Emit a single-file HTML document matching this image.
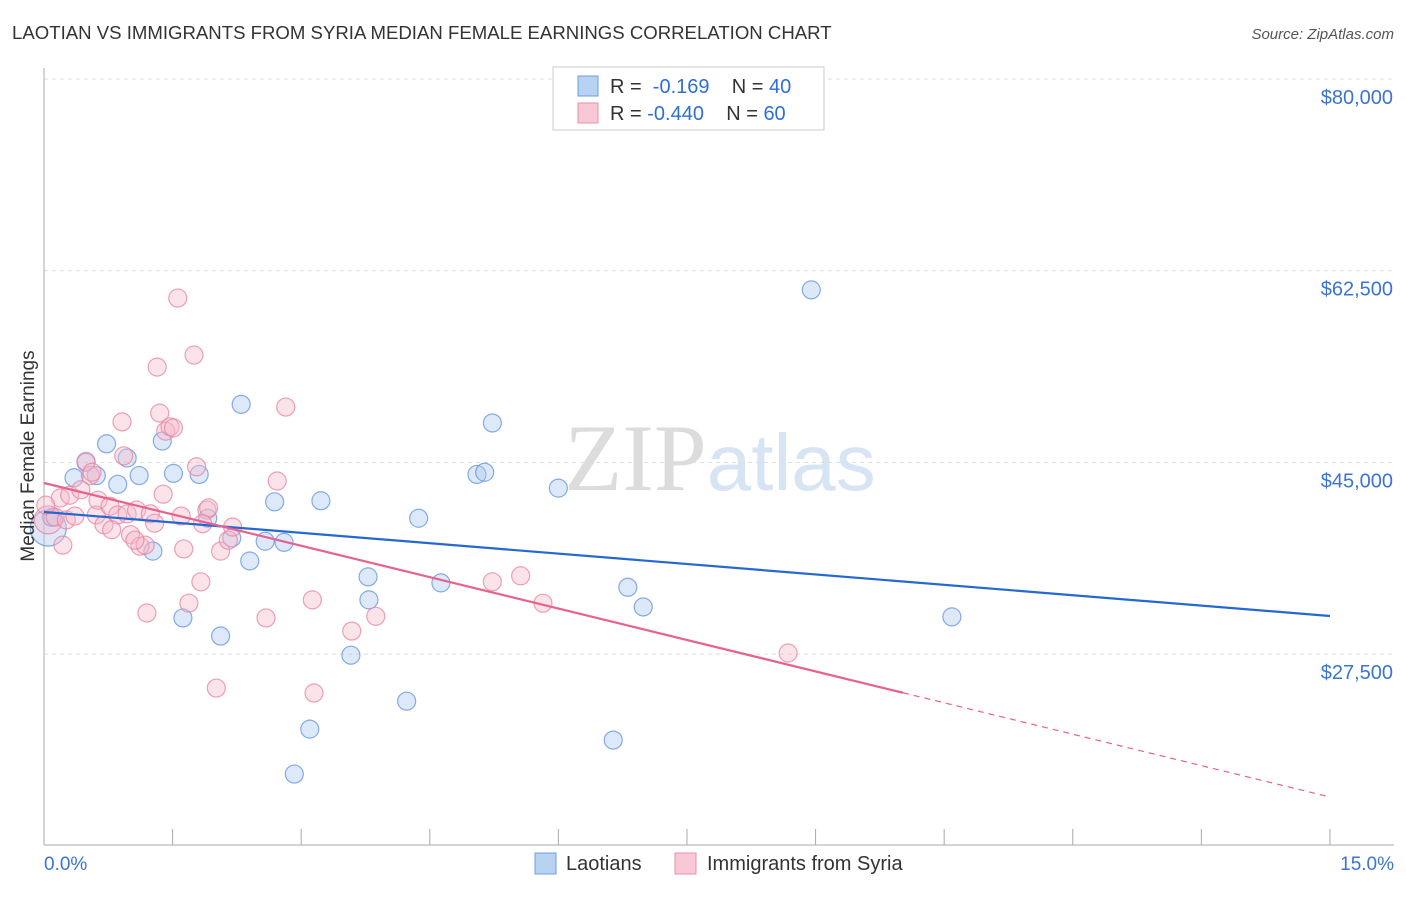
<!DOCTYPE html>
<html><head><meta charset="utf-8"><style>
body{margin:0;background:#fff;font-family:"Liberation Sans",sans-serif;}
svg text{font-family:"Liberation Sans",sans-serif;}
</style></head><body>
<svg id="c" width="1406" height="892">
<text x="12" y="39" font-size="18.6" fill="#333">LAOTIAN VS IMMIGRANTS FROM SYRIA MEDIAN FEMALE EARNINGS CORRELATION CHART</text>
<text x="1394" y="39" font-size="15" fill="#555" font-style="italic" text-anchor="end">Source: ZipAtlas.com</text>
<text x="720" y="490" font-size="95" fill="#e4e4e4" text-anchor="middle" font-family="Liberation Serif"><tspan fill="#dcdcdc" font-family="Liberation Serif">ZIP</tspan><tspan fill="#d6e4f4" font-family="Liberation Sans" font-size="80">atlas</tspan></text>
<g id="grid"></g><g id="axes"></g><g id="pts"></g><g id="lines"></g>
<text x="34" y="456" font-size="19" fill="#333" text-anchor="middle" transform="rotate(-90 34 456)">Median Female Earnings</text>
<g>
<rect x="553" y="67" width="271" height="63" fill="#fff" stroke="#ccc"/>
<rect x="578" y="76" width="20" height="20" fill="#b8d2f2" stroke="#6d9de0"/>
<rect x="578" y="103" width="20" height="20" fill="#f8c8d6" stroke="#e890aa"/>
<text x="610" y="93" font-size="20" fill="#333">R = <tspan fill="#2d6fd6">&#160;-0.169</tspan>&#160;&#160;&#160; N = <tspan fill="#2d6fd6">40</tspan></text>
<text x="610" y="120" font-size="20" fill="#333">R = <tspan fill="#2d6fd6">-0.440</tspan>&#160;&#160;&#160; N = <tspan fill="#2d6fd6">60</tspan></text>
</g>
<g>
<rect x="535" y="853" width="21" height="21" fill="#b8d2f2" stroke="#6d9de0"/>
<text x="566" y="870" font-size="20" fill="#333">Laotians</text>
<rect x="675" y="853" width="21" height="21" fill="#f8c8d6" stroke="#e890aa"/>
<text x="707" y="870" font-size="20" fill="#333">Immigrants from Syria</text>
</g>
</svg>
<script>
const yTicks=[80000,62500,45000,27500];
const yTickLabels=["$80,000","$62,500","$45,000","$27,500"];
const xTickLabels=["0.0%","15.0%"];
const blueX=[0.05,0.09,0.35,0.49,0.73,0.61,0.86,0.97,1.11,1.27,1.38,1.51,1.62,1.81,1.91,2.06,2.19,2.30,2.40,2.58,2.69,2.80,2.92,3.10,3.23,3.58,3.78,3.79,4.23,4.37,4.63,5.05,5.14,5.23,6.00,6.64,6.81,6.99,8.95,10.59];
const blueY=[39000,40000,43600,45000,46700,43800,43000,45400,43800,36900,46950,44000,30800,43900,39900,29150,38100,50300,36000,37800,41400,37700,16550,20650,41500,27400,34550,32450,23200,39900,34000,43900,44100,48600,42650,19650,33600,31800,60750,30900];
const pinkX=[0.05,0.13,0.19,0.26,0.30,0.36,0.43,0.49,0.54,0.61,0.63,0.70,0.77,0.86,0.91,0.93,0.97,1.01,1.08,1.12,1.18,1.24,1.29,1.20,1.32,1.35,1.39,1.42,1.47,1.51,1.56,1.60,1.63,1.69,1.75,1.78,1.83,1.90,1.92,2.01,2.06,2.15,2.20,2.59,2.72,2.82,3.13,3.15,3.59,3.87,5.23,5.56,5.82,8.68,0.02,0.22,0.79,1.85,0.56,1.06];
const pinkY=[39750,40000,41750,39750,42000,40100,42500,45100,43800,40200,41550,39300,41000,40200,48700,45600,40300,38400,40650,37350,37450,40300,39450,31250,53700,49500,42100,47850,48250,48150,60000,40100,37100,32150,54800,44600,34100,40650,40850,24400,36900,37900,39100,30800,43300,50050,32450,23950,29600,30950,34100,34650,32150,27600,41100,37450,38850,39400,44100,37900];
const blueTrend=[40470,30977];
const pinkTrend=[43120,14455];
const pinkSolidEnd=10.02;
const NS="http://www.w3.org/2000/svg";
const X=v=>44+v*85.73, Y=v=>79+(80000-v)*191.7/17500;
function mk(t,a,p){const e=document.createElementNS(NS,t);for(const k in a)e.setAttribute(k,a[k]);document.getElementById(p).appendChild(e);return e;}
yTicks.forEach((t,i)=>{
 const l=mk('line',{x1:44,x2:1394,y1:Y(t),y2:Y(t),stroke:'#ddd','stroke-dasharray':'4,4'},'grid');
 
 
 const tx=mk('text',{x:1393,y:Y(t)+25,'font-size':20,fill:'#3a74d4','text-anchor':'end'},'axes');
 tx.textContent=yTickLabels[i];
 
 
});
const ax=mk('line',{x1:44,x2:44,y1:68,y2:845,stroke:'#aaa'},'axes');


const bx=mk('line',{x1:44,x2:1394,y1:845,y2:845,stroke:'#aaa'},'axes');


for(let i=0;i<=10;i++){const t=mk('line',{x1:X(i*1.5),x2:X(i*1.5),y1:829,y2:845,stroke:'#aaa'},'axes');
 
 }
[[44,'start'],[1394,'end']].forEach((d,i)=>{const t=mk('text',{x:d[0],y:870,'font-size':19,fill:'#3a74d4','text-anchor':d[1]},'axes');
 t.textContent=xTickLabels[i];
 
 });
function pts(xs,ys,fill,stroke,name,big){xs.forEach((x,i)=>{
 const c=mk('circle',{cx:X(x),cy:Y(ys[i]),r:i===0?big:9,fill:fill,'fill-opacity':0.4,stroke:stroke,'stroke-opacity':0.75,'stroke-width':1.2},'pts');
 
 });}
pts(blueX,blueY,'#a9c9f0','#5d92dc','laotian-point',18);
pts(pinkX,pinkY,'#f6b9cb','#e8819f','syria-point',14);
const b=mk('line',{x1:X(0),y1:Y(blueTrend[0]),x2:X(15),y2:Y(blueTrend[1]),stroke:'#2468d4','stroke-width':2.2},'lines');


const py=x=>pinkTrend[0]+(pinkTrend[1]-pinkTrend[0])*x/15;
const p=mk('line',{x1:X(0),y1:Y(pinkTrend[0]),x2:X(pinkSolidEnd),y2:Y(py(pinkSolidEnd)),stroke:'#e8628c','stroke-width':2.2},'lines');


const pd=mk('line',{x1:X(pinkSolidEnd),y1:Y(py(pinkSolidEnd)),x2:X(15),y2:Y(pinkTrend[1]),stroke:'#e8628c','stroke-width':1.2,'stroke-dasharray':'6,5'},'lines');


</script>
</body></html>
